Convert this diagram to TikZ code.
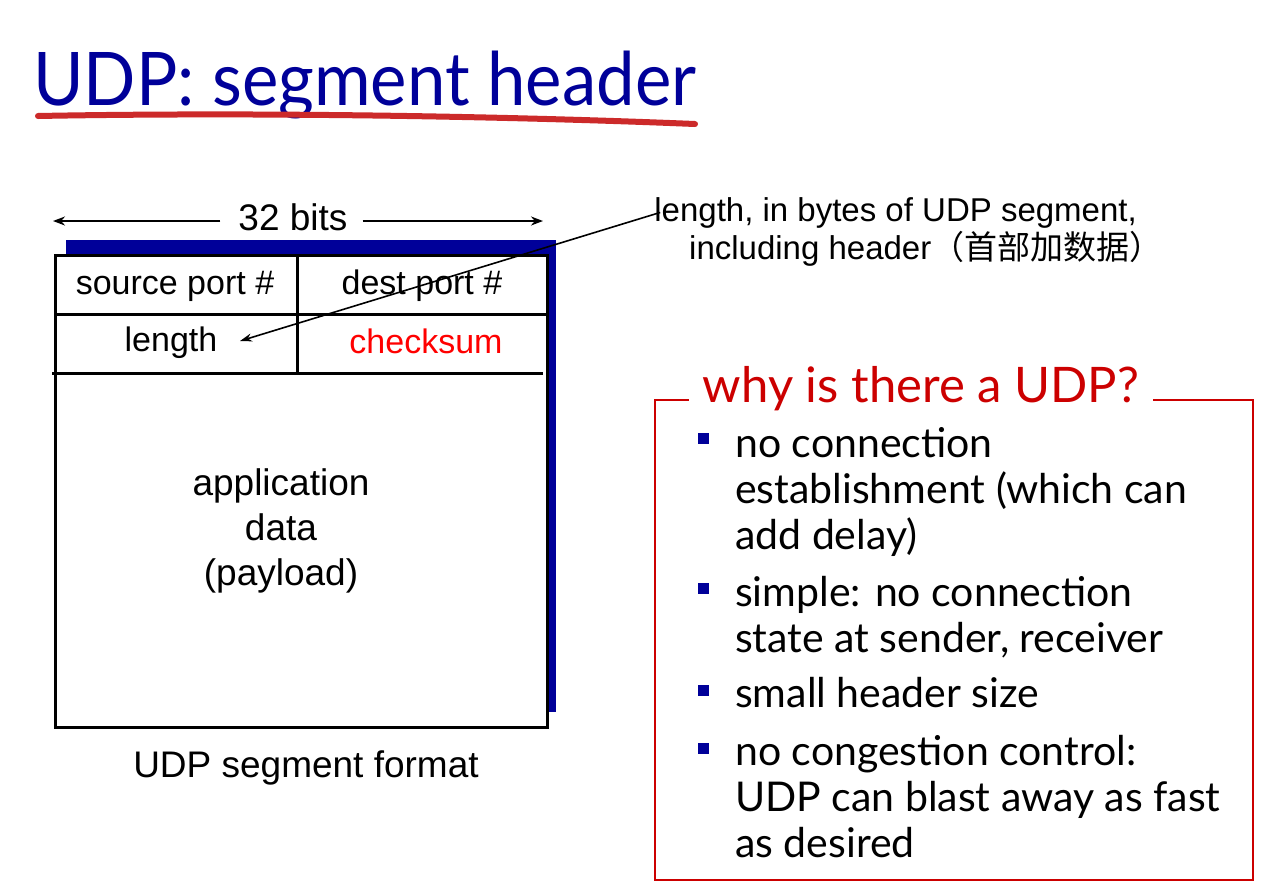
\documentclass[tikz,border=0pt]{standalone}
\usepackage{fontspec}
\setmainfont{Lato}
\newfontfamily\tah{Liberation Sans}
\newfontfamily\cjk{Noto Sans CJK SC}
\usetikzlibrary{arrows.meta}
\definecolor{titleblue}{HTML}{000099}
\definecolor{strokered}{HTML}{CC2A2A}
\definecolor{boxred}{HTML}{CC0000}
\definecolor{shadowblue}{HTML}{000099}
\tikzset{
  cell/.style={font=\tah\fontsize{34}{38}\selectfont, inner sep=0pt},
  label/.style={font=\tah\fontsize{37}{45}\selectfont, inner sep=0pt},
  note/.style={font=\tah\fontsize{33}{38}\selectfont, inner sep=0pt},
  item/.style={font=\fontsize{41}{45.7}\selectfont, anchor=base west, align=left, inner sep=0pt},
  bulletsq/.style={fill=titleblue},
  tablerule/.style={line width=3pt},
  ptr/.style={line width=1.6pt, -{Stealth[length=12pt,width=8pt]}},
  bitarrow/.style={line width=2pt, -{Stealth[length=12pt,width=9pt]}},
}
\begin{document}
\begin{tikzpicture}[x=1pt,y=-1pt]
\useasboundingbox (0,0) rectangle (1266,892);
\fill[white] (0,0) rectangle (1266,892);

% slide title with brush-stroke underline
\node[anchor=base west, inner sep=0pt, text=titleblue,
      font=\fontsize{74}{80}\selectfont] (title) at (33,105) {\scalebox{0.93}[1]{UDP: segment header}};
\draw[strokered, line width=6pt, line cap=round]
  (38,116) .. controls (250,112) and (500,116) .. (695,124);

% header layout of the segment
\fill[shadowblue] (66,240) rectangle (556,712);
\fill[white] (55,255) rectangle (547,727);
\draw[tablerule] (55,255) rectangle (547,727);
\draw[tablerule] (55,314) -- (547,314);
\draw[tablerule] (52,373) -- (543,373);
\draw[tablerule] (297,255) -- (297,373);

\node[label] (bits) at (293,217) {32 bits};
\coordinate (bitsL) at (53,221);
\coordinate (bitsR) at (543,221);
\draw[bitarrow] (bits.west) ++(-18,4) -- (bitsL);
\draw[bitarrow] (bits.east) ++(15,4) -- (bitsR);

\node[cell] (src) at (175,286) {source port \#};
\node[cell] (dst) at (422,286) {dest port \#};
\node[cell] (len) at (171,343) {length};
\node[cell, text=red] (chk) at (426,341) {checksum};
\node[label, align=center] (data) at (281,531)
  {application\\data\\(payload)};
\node[label] (fmt) at (306,768) {UDP segment format};

% annotation for the length field
\node[note, anchor=base east] (note1) at (1137,221) {length, in bytes of UDP segment,};
\node[note, anchor=base west] (note2) at (689,259) {including header{\cjk （首部加数据）}};
\coordinate (lentip) at (240,341);
\draw[ptr] (note1.west) ++(6,0) -- (lentip);

% reasons for UDP
\draw[boxred, line width=2.5pt] (655,400) rectangle (1253,880);
\node[fill=white, inner xsep=14pt, inner ysep=2pt, text=boxred,
      font=\fontsize{49}{56}\selectfont] (why) at (921,389) {why is there a UDP?};

\fill[bulletsq] (698,433) rectangle (709,444);
\node[item] (i1) at (735,549) {no connection\\establishment (which can\\add delay)};
\fill[bulletsq] (698,583) rectangle (709,594);
\node[item] (i2) at (735,652) {simple: no connection\\state at sender, receiver};
\fill[bulletsq] (698,685) rectangle (709,696);
\node[item] (i3) at (735,707) {small header size};
\fill[bulletsq] (698,743) rectangle (709,754);
\node[item] (i4) at (735,857) {no congestion control:\\UDP can blast away as fast\\as desired};
\end{tikzpicture}
\end{document}
